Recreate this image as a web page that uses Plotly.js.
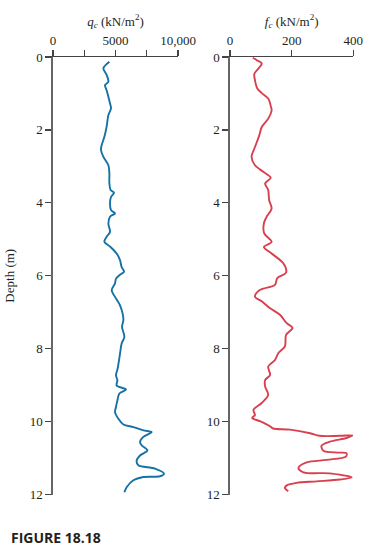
<!DOCTYPE html>
<html>
<head>
<meta charset="utf-8">
<script src="https://cdn.plot.ly/plotly-3.0.1.min.js"></script>
<style>
html,body{margin:0;padding:0;background:#fff;}
#chart{width:372px;height:558px;}
</style>
</head>
<body>
<div id="chart"></div>
<script>
// Cone resistance q_c (kN/m^2) vs depth (m)
var depthQ = [0.13,0.31,0.49,0.68,0.77,0.91,1.09,1.27,1.41,1.59,1.91,2.19,2.42,2.55,2.74,2.97,3.19,3.47,3.65,3.72,3.84,4.02,4.20,4.29,4.38,4.57,4.80,4.93,5.07,5.21,5.39,5.57,5.76,5.89,5.97,6.08,6.21,6.40,6.58,6.81,7.04,7.22,7.40,7.68,7.86,8.14,8.32,8.55,8.73,8.87,9.01,9.12,9.23,9.42,9.60,9.74,9.92,10.08,10.15,10.24,10.29,10.42,10.56,10.65,10.79,10.93,11.07,11.20,11.29,11.43,11.50,11.52,11.61,11.80,11.94];
var qc = [4510,4030,4290,4430,4160,4290,4430,4560,4640,4430,4290,4110,3890,3840,4030,4430,4510,4510,4610,4880,4640,4560,4640,4960,4560,4430,4560,4290,4110,4600,5090,5360,5490,5680,5360,5040,4960,4690,4960,5360,5570,5630,5520,5710,5490,5360,5280,5170,5040,5150,5090,5840,5310,5150,5040,4960,5230,5630,6430,7230,7890,7230,6960,7090,7550,6960,6690,6830,8160,8880,8560,7230,6430,5890,5710];

// Sleeve friction f_c (kN/m^2) vs depth (m)
var depthF = [0.02,0.09,0.18,0.32,0.46,0.64,0.87,0.99,1.14,1.37,1.46,1.69,1.92,2.15,2.47,2.74,2.97,3.15,3.31,3.47,3.65,3.93,4.15,4.38,4.56,4.84,5.07,5.21,5.39,5.66,5.91,6.07,6.25,6.39,6.57,6.70,6.89,7.07,7.30,7.43,7.62,7.94,8.12,8.31,8.49,8.72,8.86,9.04,9.27,9.49,9.68,9.82,9.90,9.99,10.13,10.19,10.22,10.32,10.39,10.39,10.38,10.45,10.55,10.66,10.80,10.85,10.87,10.96,11.05,11.12,11.27,11.39,11.42,11.53,11.59,11.64,11.68,11.75,11.82,11.91];
var fc = [74,87,103,92,79,81,89,103,124,133,135,124,103,95,81,70,81,108,132,114,124,127,135,119,110,111,135,110,135,173,182,153,146,97,81,103,130,162,184,203,182,178,157,146,124,130,114,114,124,103,76,81,72,97,130,140,195,260,290,357,398,378,324,297,303,351,378,376,314,249,222,238,324,395,357,281,216,184,178,189];

var depthTicks = [0,2,4,6,8,10,12];
var qcTicks = [0,5000,10000];
var qcTickText = ['0','5000','10,000'];
var qcMinorTicks = [2500,7500];
var fcTicks = [0,200,400];
var fcTickText = ['0','200','400'];

var serif = 'Liberation Serif, Times New Roman, serif';
var ink = '#231f20';

var traces = [
  {x: qc, y: depthQ, xaxis:'x', yaxis:'y', mode:'lines', type:'scatter',
   line:{color:'#1572a5', width:1.9, shape:'spline', smoothing:0.9}, hoverinfo:'none'},
  {x: fc, y: depthF, xaxis:'x2', yaxis:'y2', mode:'lines', type:'scatter',
   line:{color:'#d9404f', width:1.9, shape:'spline', smoothing:0.9}, hoverinfo:'none'}
];

function xAx(domain, range, vals, text, minorVals, title, anchor){
  var a = {
    domain: domain, range: range, side:'top', anchor: anchor,
    tickmode:'array', tickvals: vals, ticktext: text,
    ticks:'outside', ticklen:6, tickwidth:1.2, tickcolor:'#444',
    showline:true, linecolor:'#444', linewidth:1.3,
    showgrid:false, zeroline:false,
    tickfont:{family:serif, size:13, color:ink},
    title:{text: title, font:{family:serif, size:13, color:ink}, standoff:3}
  };
  if (minorVals) a.minor = {tickmode:'array', tickvals: minorVals, ticks:'outside', ticklen:6, tickwidth:1.2, tickcolor:'#444', showgrid:false};
  return a;
}
function yAx(anchor, title){
  var a = {
    domain:[1-494.5/558, 1-57/558], range:[12,0], anchor: anchor,
    tickmode:'array', tickvals: depthTicks,
    ticks:'outside', ticklen:6, tickwidth:1.2, tickcolor:'#444',
    showline:true, linecolor:'#666', linewidth:1.6,
    showgrid:false, zeroline:false,
    tickfont:{family:serif, size:13, color:ink}
  };
  if (title) a.title = {text: title, font:{family:serif, size:13, color:ink}, standoff:12};
  return a;
}

var layout = {
  width:372, height:558,
  margin:{l:0, r:0, t:0, b:0},
  paper_bgcolor:'#fff', plot_bgcolor:'#fff',
  showlegend:false,
  xaxis: xAx([53/372, 178/372], [0,10000], qcTicks, qcTickText, qcMinorTicks, '<i>q<sub>c</sub></i> (kN/m<sup>2</sup>)', 'y'),
  xaxis2: xAx([230/372, 353.3/372], [0,400], fcTicks, fcTickText, null, '<i>f<sub>c</sub></i> (kN/m<sup>2</sup>)', 'y2'),
  yaxis: yAx('x', 'Depth (m)'),
  yaxis2: yAx('x2', null),
  annotations:[
    {text:'<b>FIGURE 18.18</b>', xref:'paper', yref:'paper', x:9/372, y:1-537/558,
     xanchor:'left', yanchor:'middle', showarrow:false,
     font:{family:'Open Sans, Liberation Sans, sans-serif', size:14, color:ink}}
  ]
};

Plotly.newPlot('chart', traces, layout, {staticPlot:true, displayModeBar:false});
</script>
</body>
</html>
